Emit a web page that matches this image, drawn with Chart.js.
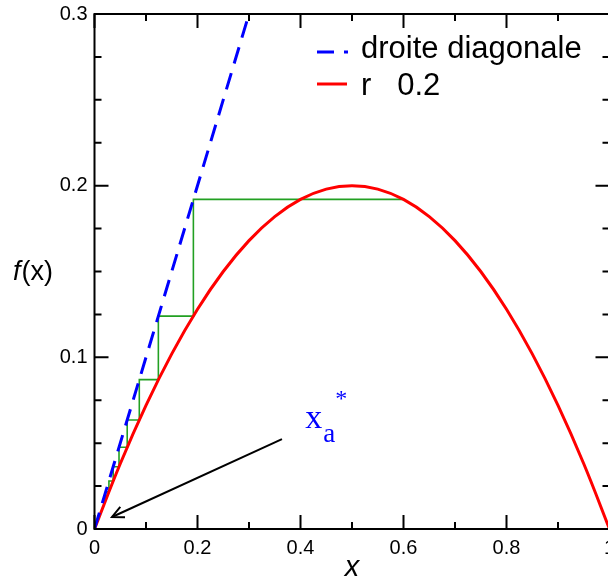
<!DOCTYPE html>
<html>
<head>
<meta charset="utf-8">
<script src="https://cdn.jsdelivr.net/npm/chart.js@4.4.1/dist/chart.umd.min.js"></script>
<style>
  html, body { margin: 0; padding: 0; background: #fff; overflow: hidden; }
  #wrap { width: 608px; height: 577px; overflow: hidden; position: relative; }
  #plot { position: absolute; left: 0; top: 0; }
</style>
</head>
<body>
<div id="wrap"><canvas id="plot" width="640" height="577"></canvas></div>
<script>
// values
const curveX = [0, 0.05, 0.1, 0.15, 0.2, 0.25, 0.3, 0.35, 0.4, 0.45, 0.5, 0.55, 0.6, 0.65, 0.7, 0.75, 0.8, 0.85, 0.9, 0.95, 1];
const curveY = [0, 0.038, 0.072, 0.102, 0.128, 0.150, 0.168, 0.182, 0.192, 0.198, 0.200, 0.198, 0.192, 0.182, 0.168, 0.150, 0.128, 0.102, 0.072, 0.038, 0];
const diagX = [0, 0.3];
const diagY = [0, 0.3];
const webX = [0.6, 0.192, 0.192, 0.124, 0.124, 0.087, 0.087, 0.0635, 0.0635, 0.0476, 0.0476, 0.0363, 0.0363, 0.028, 0.028, 0.0217, 0.0217];
const webY = [0.192, 0.192, 0.124, 0.124, 0.087, 0.087, 0.0635, 0.0635, 0.0476, 0.0476, 0.0363, 0.0363, 0.028, 0.028, 0.0217, 0.0217, 0.017];
const xMajor = [0, 0.2, 0.4, 0.6, 0.8, 1];
const xMinor = [0.1, 0.3, 0.5, 0.7, 0.9];
const xLabels = ['0', '0.2', '0.4', '0.6', '0.8', '1'];
const yMajor = [0, 0.1, 0.2, 0.3];
const yMinor = [0.025, 0.05, 0.075, 0.125, 0.15, 0.175, 0.225, 0.25, 0.275];
const yLabels = ['0', '0.1', '0.2', '0.3'];
const arrowFrom = [0.364, 0.0524];
const arrowTo = [0.034, 0.007];
const labelPos = [0.409, 0.0588];

const pts = (xs, ys) => xs.map((x, i) => ({ x, y: ys[i] }));
const SANS = '"Liberation Sans", Arial, sans-serif';
const SERIF = '"Liberation Serif", "Times New Roman", serif';

const decor = {
  id: 'decor',
  afterDraw(chart) {
    const { ctx, chartArea: a, scales: { x, y } } = chart;
    ctx.save();
    ctx.strokeStyle = '#000';
    ctx.lineWidth = 2;
    ctx.strokeRect(a.left, a.top, a.right - a.left, a.bottom - a.top);
    ctx.beginPath();
    xMajor.concat(xMinor).forEach((v, i) => {
      const len = i < xMajor.length ? 14 : 7;
      const px = x.getPixelForValue(v);
      ctx.moveTo(px, a.bottom); ctx.lineTo(px, a.bottom - len);
      ctx.moveTo(px, a.top); ctx.lineTo(px, a.top + len);
    });
    yMajor.concat(yMinor).forEach((v, i) => {
      const len = i < yMajor.length ? 14 : 7;
      const py = y.getPixelForValue(v);
      ctx.moveTo(a.left, py); ctx.lineTo(a.left + len, py);
      ctx.moveTo(a.right, py); ctx.lineTo(a.right - len, py);
    });
    ctx.stroke();

    // tick labels
    ctx.fillStyle = '#000';
    ctx.font = '20px ' + SANS;
    ctx.textAlign = 'center';
    ctx.textBaseline = 'alphabetic';
    xMajor.forEach((v, i) => ctx.fillText(xLabels[i], x.getPixelForValue(v), a.bottom + 25));
    ctx.textAlign = 'right';
    ctx.textBaseline = 'middle';
    yMajor.forEach((v, i) => ctx.fillText(yLabels[i], a.left - 7, y.getPixelForValue(v)));

    // axis titles
    ctx.textBaseline = 'alphabetic';
    ctx.textAlign = 'left';
    ctx.font = 'italic 27px ' + SANS;
    ctx.fillText('f', 13, 280);
    const fw = ctx.measureText('f').width;
    ctx.font = '27px ' + SANS;
    ctx.fillText('(x)', 13 + fw + 1, 280);
    ctx.font = 'italic 29px ' + SANS;
    ctx.textAlign = 'center';
    ctx.fillText('x', 352, 576);

    // legend
    ctx.textAlign = 'left';
    ctx.lineWidth = 3;
    ctx.strokeStyle = '#0000ff';
    ctx.setLineDash([17, 10]);
    ctx.beginPath(); ctx.moveTo(317, 52); ctx.lineTo(348, 52); ctx.stroke();
    ctx.setLineDash([]);
    ctx.strokeStyle = '#ff0000';
    ctx.beginPath(); ctx.moveTo(317, 84); ctx.lineTo(347, 84); ctx.stroke();
    ctx.font = '31px ' + SANS;
    ctx.fillText('droite diagonale', 361, 58);
    ctx.fillText('r   0.2', 361, 95);

    // arrow
    const x0 = x.getPixelForValue(arrowFrom[0]), y0 = y.getPixelForValue(arrowFrom[1]);
    const x1 = x.getPixelForValue(arrowTo[0]), y1 = y.getPixelForValue(arrowTo[1]);
    const ang = Math.atan2(y1 - y0, x1 - x0);
    ctx.strokeStyle = '#000';
    ctx.lineWidth = 2;
    ctx.beginPath(); ctx.moveTo(x0, y0); ctx.lineTo(x1, y1); ctx.stroke();
    ctx.beginPath();
    ctx.moveTo(x1 - 13 * Math.cos(ang - 0.45), y1 - 13 * Math.sin(ang - 0.45));
    ctx.lineTo(x1, y1);
    ctx.lineTo(x1 - 13 * Math.cos(ang + 0.45), y1 - 13 * Math.sin(ang + 0.45));
    ctx.stroke();

    // x_a^* label
    const lx = x.getPixelForValue(labelPos[0]), ly = y.getPixelForValue(labelPos[1]);
    ctx.fillStyle = '#0000ff';
    ctx.font = '34px ' + SERIF;
    ctx.fillText('x', lx, ly);
    ctx.font = '27px ' + SERIF;
    ctx.fillText('a', lx + 18, ly + 14);
    ctx.font = '24px ' + SERIF;
    ctx.fillText('*', lx + 30, ly - 22);
    ctx.restore();
  }
};

new Chart(document.getElementById('plot'), {
  type: 'line',
  data: {
    datasets: [
      { label: 'droite diagonale', data: pts(diagX, diagY), borderColor: '#0000ff', borderWidth: 3,
        borderDash: [17, 10], pointRadius: 0, tension: 0 },
      { label: 'r 0.2', data: pts(curveX, curveY), borderColor: '#ff0000', borderWidth: 3,
        pointRadius: 0, tension: 0.4 },
      { label: 'cobweb', data: pts(webX, webY), borderColor: '#22a022', borderWidth: 1.6,
        pointRadius: 0, tension: 0 }
    ]
  },
  options: {
    responsive: false,
    animation: false,
    layout: { padding: { top: 14, right: 30.5, left: 0, bottom: 0 } },
    plugins: { legend: { display: false }, tooltip: { enabled: false } },
    scales: {
      x: {
        type: 'linear', min: 0, max: 1,
        afterFit(s) { s.height = 48; },
        grid: { display: false, drawTicks: false },
        border: { display: false },
        ticks: { display: false }
      },
      y: {
        type: 'linear', min: 0, max: 0.3,
        afterFit(s) { s.width = 94.5; },
        grid: { display: false, drawTicks: false },
        border: { display: false },
        ticks: { display: false }
      }
    }
  },
  plugins: [decor]
});
</script>
</body>
</html>
